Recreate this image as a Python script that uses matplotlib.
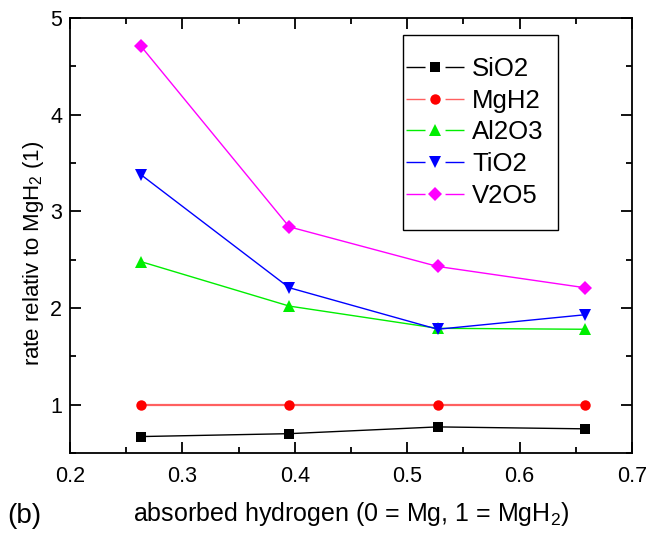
import matplotlib
matplotlib.use("Agg")
import matplotlib.pyplot as plt
from matplotlib.lines import Line2D
from matplotlib.patches import Rectangle
from matplotlib.legend_handler import HandlerTuple
from matplotlib.ticker import MultipleLocator

plt.rcParams["font.family"] = ["Liberation Sans", "DejaVu Sans"]
plt.rcParams["mathtext.fontset"] = "custom"
plt.rcParams["mathtext.rm"] = "Liberation Sans"
plt.rcParams["mathtext.it"] = "Liberation Sans:italic"
plt.rcParams["lines.scale_dashes"] = False

# absorbed hydrogen fraction
x = [0.263, 0.395, 0.527, 0.658]

sio2 = [0.67, 0.70, 0.77, 0.75]
mgh2 = [1.00, 1.00, 1.00, 1.00]
al2o3 = [2.48, 2.02, 1.79, 1.78]
tio2 = [3.38, 2.21, 1.78, 1.93]
v2o5 = [4.71, 2.84, 2.43, 2.21]

labels = ["SiO2", "MgH2", "Al2O3", "TiO2", "V2O5"]
series = [sio2, mgh2, al2o3, tio2, v2o5]
colors = ["#000000", "#ff0000", "#00ee00", "#0000ff", "#ff00ff"]
line_colors = ["#000000", "#ff6060", "#00ee00", "#0000ff", "#ff00ff"]
markers = ["s", "o", "^", "v", "D"]
msizes = [6.5, 7.5, 8.5, 8.5, 7]

W, H = 648, 533
fig = plt.figure(figsize=(W / 100, H / 100), dpi=100)
ax = fig.add_axes([70 / W, 1 - 453 / H, 562 / W, 435 / H])

handles = []
for ys, lab, c, lc, m, ms in zip(series, labels, colors, line_colors, markers, msizes):
    lw = 1.6 if lab == "MgH2" else 1.0
    ax.plot(x, ys, color=lc, lw=lw, marker=m, ms=ms, mfc=c, mec=c, mew=0)
    # legend: line broken around the marker
    seg = Line2D([], [], color=lc, lw=1.0, linestyle=(0, (13.7, 14.4)))
    mk = Line2D([], [], color=c, linestyle="none", marker=m, ms=ms, mew=0)
    handles.append((seg, mk))

ax.set_xlim(0.2, 0.7)
ax.set_ylim(0.5, 5)
ax.xaxis.set_major_locator(MultipleLocator(0.1))
ax.xaxis.set_minor_locator(MultipleLocator(0.05))
ax.yaxis.set_major_locator(MultipleLocator(1))
ax.yaxis.set_minor_locator(MultipleLocator(0.5))
ax.tick_params(which="both", direction="in", top=True, right=True, width=1.3,
               labelsize=15.5)
ax.tick_params(which="major", length=8)
ax.tick_params(which="minor", length=4)
ax.tick_params(axis="x", which="major", pad=9.5)
ax.tick_params(axis="y", which="major", pad=5.5)
for s in ax.spines.values():
    s.set_linewidth(1.3)

ax.set_xlabel(r"absorbed hydrogen (0 = Mg, 1 = MgH$_2$)", fontsize=18, labelpad=9)
ax.set_ylabel(r"rate relativ to MgH$_2$ (1)", fontsize=16)
ax.yaxis.set_label_coords(-(70 - 46) / 562, (453 - 253) / 435)
fig.text(7 / W, 1 - 516 / H, "(b)", fontsize=20, va="center", ha="left")

leg = ax.legend(handles, labels, handler_map={tuple: HandlerTuple(ndivide=1, pad=0)},
                loc="upper left", bbox_to_anchor=(406 / W, 1 - 57 / H),
                bbox_transform=fig.transFigure,
                fontsize=18.5, handlelength=2.26, handletextpad=0.31, labelspacing=0.3,
                borderpad=0, borderaxespad=0, frameon=False)

# frame around the legend, wider top/bottom margin than sides
fig.canvas.draw()
bb = leg.get_window_extent()
box = Rectangle((403 / W, (bb.y0 - 22) / H), (bb.x1 + 14 - 403) / W,
                (H - 35 - bb.y0 + 22) / H, transform=fig.transFigure,
                fill=True, facecolor="white", edgecolor="black", lw=1.0, zorder=4)
ax.add_artist(box)
box.set_clip_on(False)
leg.set_zorder(5)

fig.savefig("out.png", dpi=100)
